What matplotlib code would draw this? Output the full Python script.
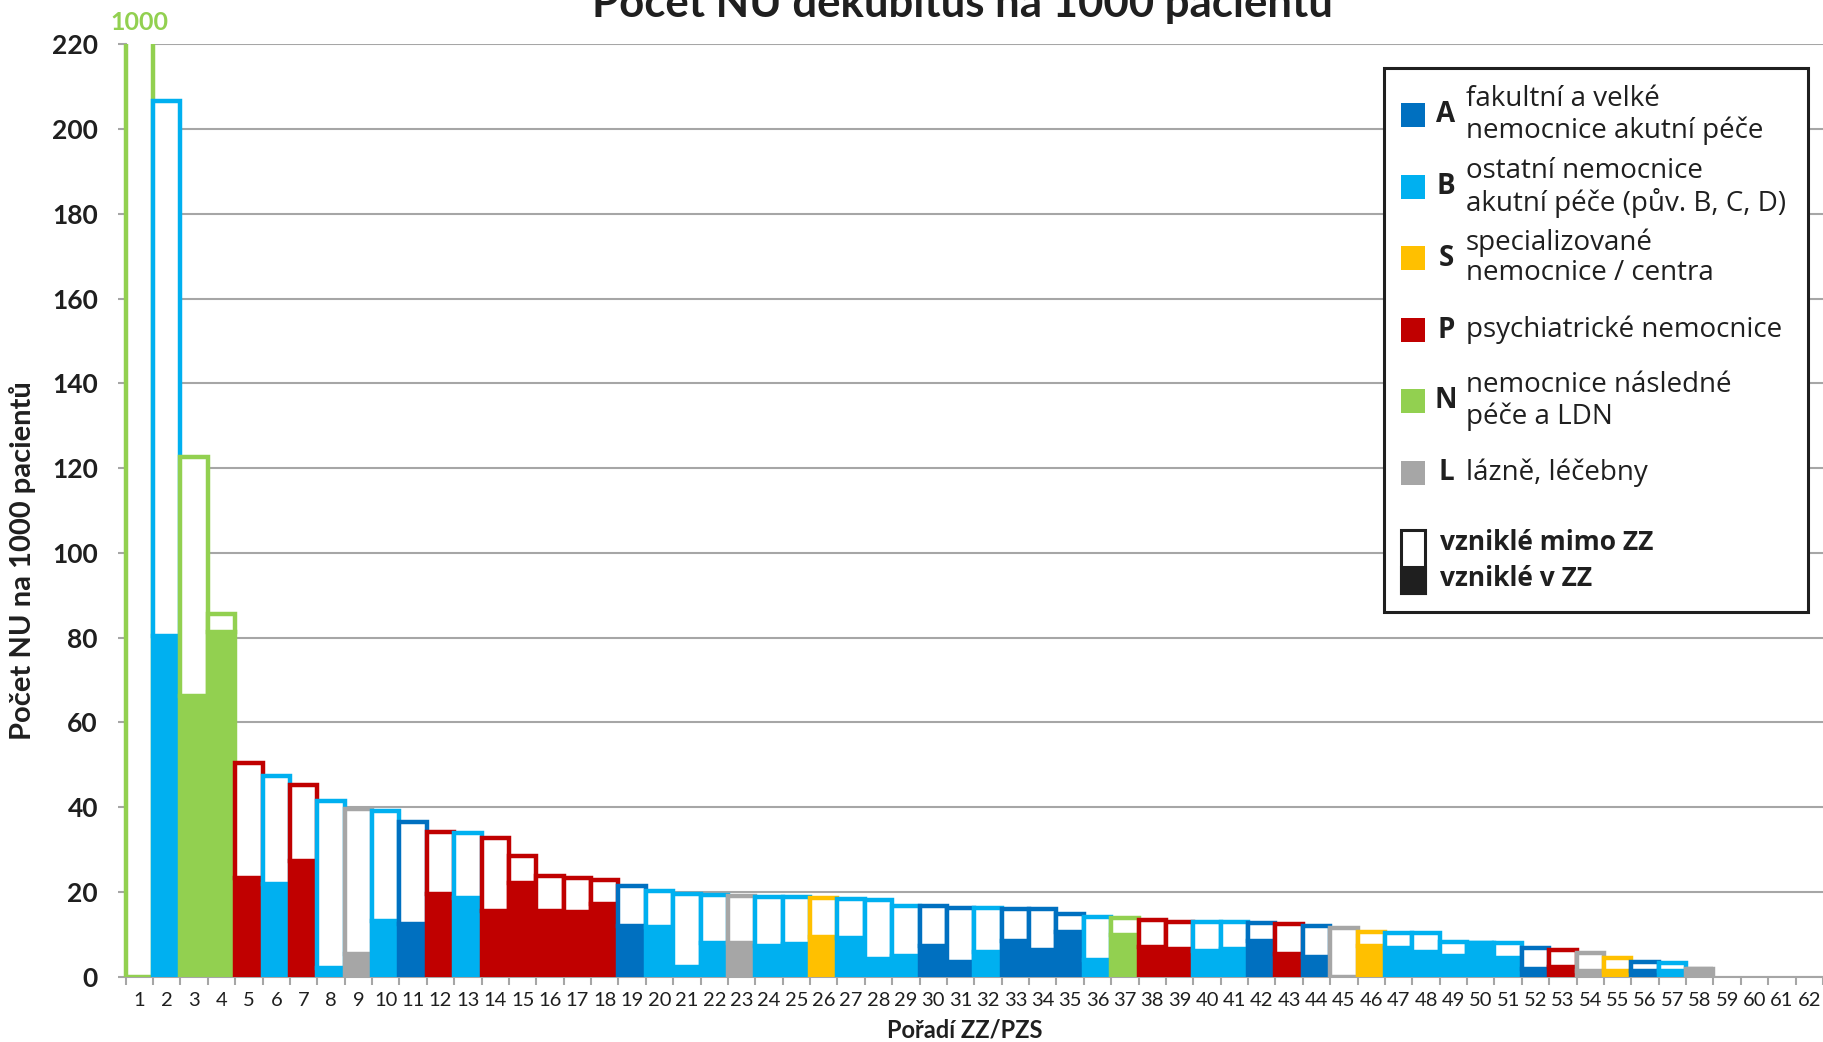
# -*- coding: utf-8 -*-

import numpy as np
import matplotlib
matplotlib.use('Agg')
import matplotlib.pyplot as plt
from matplotlib.patches import Rectangle

plt.rcParams['font.family'] = ['Lato', 'DejaVu Sans']

# data
poradi = list(range(1, 63))
typ = ['N','B','N','N','P','B','P','B','L','B','A','P','B','P','P','P','P','P','A','B',
	'B','B','L','B','B','S','B','B','B','A','A','B','A','A','A','B','N','P','P','B',
	'B','A','P','A','L','S','B','B','B','B','B','A','P','L','S','A','B','L','','','','']
celkem = [1000, 206.5, 122.5, 85.5, 50.5, 47.3, 45.3, 41.4, 39.5, 39.1,
	36.4, 34.1, 33.8, 32.7, 28.5, 23.8, 23.2, 22.8, 21.3, 20.3,
	19.6, 19.3, 19.1, 18.8, 18.8, 18.5, 18.3, 18.2, 16.7, 16.6,
	16.3, 16.3, 16.0, 15.9, 14.7, 14.0, 13.9, 13.3, 12.9, 12.8,
	12.8, 12.7, 12.4, 12.0, 11.6, 10.6, 10.2, 10.2, 8.3, 8.0,
	7.9, 6.8, 6.4, 5.6, 4.5, 3.5, 3.3, 1.9, 0, 0, 0, 0]
v_zz = [0, 80.3, 66.3, 81.4, 23.2, 21.9, 27.4, 2.1, 5.4, 13.1,
	12.5, 19.4, 18.6, 15.6, 22.1, 15.6, 15.2, 17.2, 11.9, 11.7,
	2.2, 8.0, 8.0, 7.2, 7.7, 9.4, 9.2, 4.2, 5.0, 7.3,
	3.4, 5.8, 8.4, 6.4, 10.6, 3.9, 9.9, 7.1, 6.6, 6.0,
	6.5, 8.4, 5.4, 4.6, 0.0, 7.2, 6.7, 5.9, 5.0, 8.0,
	4.3, 1.8, 2.2, 1.3, 1.4, 1.4, 1.3, 1.9, 0, 0, 0, 0]
mimo_zz = np.array(celkem) - np.array(v_zz)

barvy = {'A': '#0070C0', 'B': '#00B0F0', 'S': '#FFC000',
	'P': '#C00000', 'N': '#92D050', 'L': '#A6A6A6'}
legenda = [('A', ['fakultní a velké', 'nemocnice akutní péče']),
	('B', ['ostatní nemocnice', 'akutní péče (pův. B, C, D)']),
	('S', ['specializované', 'nemocnice / centra']),
	('P', ['psychiatrické nemocnice']),
	('N', ['nemocnice následné', 'péče a LDN']),
	('L', ['lázně, léčebny'])]

W, H = 1823, 1042
TXT = '#1f1f1f'
GRID = '#a6a6a6'
LW = 3.2

fig = plt.figure(figsize=(W/100, H/100), dpi=100)
ax = fig.add_axes([125.7/W, 1-976.7/H, 1-125.7/W, (976.7-44.2)/H])

# ořez jen nahoře, aby byl vidět okraj prvního sloupce
orez = Rectangle((-0.01, 0), 1.02, 1, transform=ax.transAxes, facecolor='none', edgecolor='none')
for i in range(len(poradi)):
	if typ[i] == '':
		continue
	c = barvy[typ[i]]
	b1 = ax.bar(poradi[i], v_zz[i], width=1.0, color=c, edgecolor=c, linewidth=LW, zorder=3+i*0.01)
	b2 = ax.bar(poradi[i], mimo_zz[i], bottom=v_zz[i], width=1.0, color='white', edgecolor=c,
		linewidth=LW, zorder=3.005+i*0.01)
	for p in list(b1) + list(b2):
		p.set_clip_path(orez)

ax.set_xlim(0.5, 62.5)
ax.set_ylim(0, 220)
ax.set_yticks(range(0, 221, 20))
ax.set_xticks(poradi)
ax.set_xticks(np.arange(0.5, 63, 1), minor=True)
ax.tick_params(axis='x', which='major', length=0, pad=11, labelsize=14.5, labelcolor=TXT)
ax.tick_params(axis='x', which='minor', length=6, width=1.5, color=GRID)
ax.tick_params(axis='y', length=6, width=1.5, color=GRID, pad=14, labelsize=19, labelcolor=TXT)
for lab in ax.get_yticklabels():
	lab.set_fontweight('bold')
ax.set_axisbelow(True)
ax.grid(axis='y', color=GRID, linewidth=1.5)
for s in ['top', 'right']:
	ax.spines[s].set_visible(False)
for s in ['left', 'bottom']:
	ax.spines[s].set_color(GRID)
	ax.spines[s].set_linewidth(1.5)
	ax.spines[s].set_zorder(2.5)

# hodnota 1000 nad prvním sloupcem
ax.annotate(str(celkem[0]), xy=(poradi[0], 220), xytext=(0, 7), textcoords='offset points',
	ha='center', va='bottom', fontsize=18, fontweight='bold', color=barvy['N'], annotation_clip=False)

fig.text(962/W, 1-16.7/H, 'Počet NU dekubitus na 1000 pacientů', ha='center', va='baseline',
	fontsize=31.5, fontweight='bold', color=TXT)
fig.text(23/W, 1-561/H, 'Počet NU na 1000 pacientů', rotation=90, ha='center', va='center',
	fontsize=21, fontweight='bold', color=TXT)
fig.text(965/W, 1-1030/H, 'Pořadí ZZ/PZS', ha='center', va='center',
	fontsize=17, fontweight='bold', color=TXT)

# legenda
fig.add_artist(Rectangle((1384/W, 1-612/H), (1808-1384)/W, (612-68)/H, transform=fig.transFigure,
	facecolor='white', edgecolor=TXT, linewidth=2.2, zorder=5))
leg_y = [115, 187, 258, 330, 401, 473]
LF = ['Open Sans', 'DejaVu Sans']
for (k, radky), y in zip(legenda, leg_y):
	fig.add_artist(Rectangle((1401/W, 1-(y+12)/H), 24/W, 24/H, transform=fig.transFigure,
		facecolor=barvy[k], edgecolor='none', zorder=6))
	fig.text(1446/W, 1-y/H, k, ha='center', va='center', fontsize=20, fontweight='bold',
		family=LF, color=TXT, zorder=6)
	if len(radky) == 1:
		offs = [0]
	else:
		offs = [-15.5, 15.5]
	for t, o in zip(radky, offs):
		fig.text(1466/W, 1-(y+o)/H, t, ha='left', va='center', fontsize=20,
			family=LF, color=TXT, zorder=6)

fig.add_artist(Rectangle((1401/W, 1-593/H), 24/W, 63/H, transform=fig.transFigure,
	facecolor='white', edgecolor=TXT, linewidth=2.2, zorder=6))
fig.add_artist(Rectangle((1401/W, 1-593/H), 24/W, 26/H, transform=fig.transFigure,
	facecolor=TXT, edgecolor=TXT, linewidth=2.2, zorder=6))
fig.text(1440/W, 1-542/H, 'vzniklé mimo ZZ', ha='left', va='center', fontsize=19,
	fontweight='bold', family=LF, color=TXT, zorder=6)
fig.text(1440/W, 1-579/H, 'vzniklé v ZZ', ha='left', va='center', fontsize=19,
	fontweight='bold', family=LF, color=TXT, zorder=6)

fig.savefig('out.png', dpi=100)
